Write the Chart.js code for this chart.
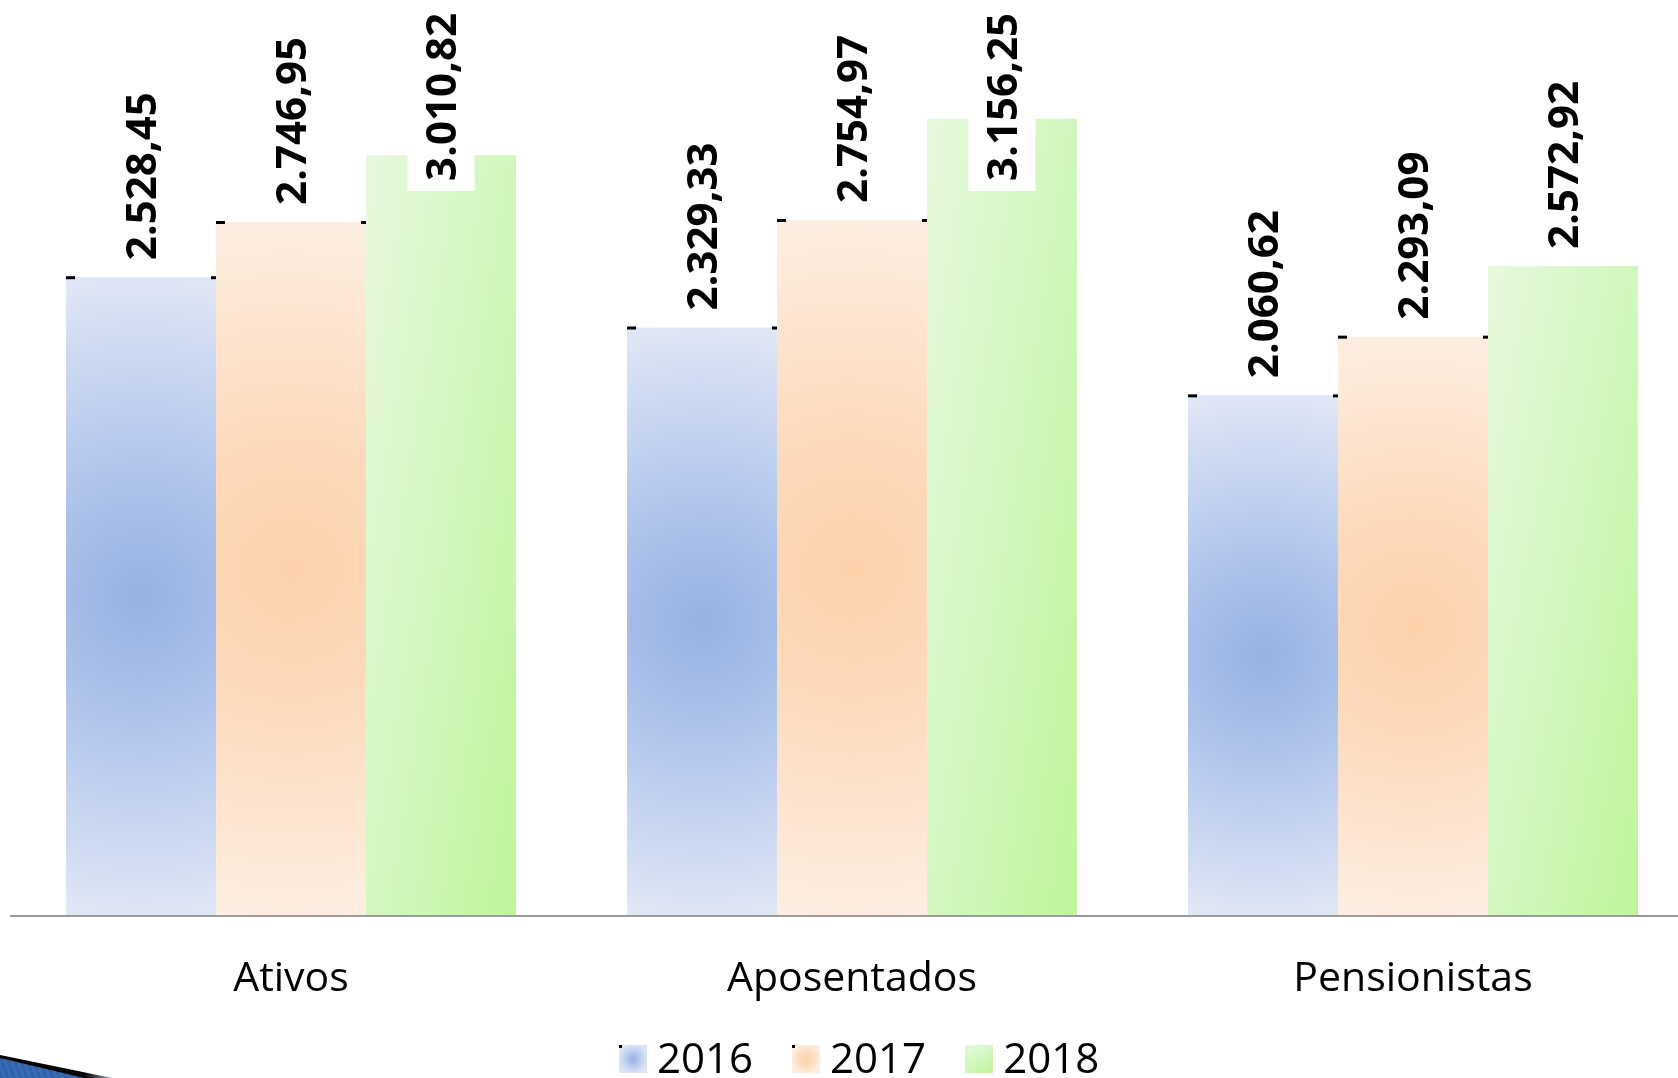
<!DOCTYPE html>
<html lang="pt-BR">
<head>
<meta charset="utf-8">
<title>Ativos / Aposentados / Pensionistas</title>
<script src="https://cdn.jsdelivr.net/npm/chart.js@4.4.1/dist/chart.umd.min.js"></script>
<style>
  html, body { margin: 0; padding: 0; background: #fff; overflow: hidden; }
  body { width: 1678px; height: 1078px; position: relative; font-family: 'Open Sans', sans-serif; }
  #wrap { position: absolute; left: 0; top: 0; width: 1700px; height: 1078px; }

  /* legend */
  #legend { position: absolute; left: 619px; top: 1036px; display: flex; }
  .legend-item { display: flex; align-items: flex-start; margin-right: 39px; }
  .legend-box { position: relative; width: 28px; height: 28px; margin-top: 9px; margin-right: 10px; }
  .legend-box.dot::before { content: ''; position: absolute; left: 0; top: 0; width: 3px; height: 3px; background: #000; }
  .legend-text { font-size: 42px; line-height: 42px; color: #000; }

  /* slide corner decoration */
  .corner { position: absolute; left: 0; top: 1040px; width: 120px; height: 38px; }
  .corner.shadow { background: linear-gradient(90deg, #000 70%, #c9d6ec 100%); clip-path: polygon(0 15px, 112px 38px, 0 38px); }
  .corner.blue { background: repeating-linear-gradient(70deg, #2f62aa 0 3px, #3a6cb4 3px 6px); clip-path: polygon(0 18px, 84px 38px, 0 38px); }
</style>
</head>
<body>
<div id="wrap"><canvas id="chart"></canvas></div>
<div id="legend"></div>
<div class="corner shadow"></div>
<div class="corner blue"></div>

<script>
/* ── Data ── */
const categories = ['Ativos', 'Aposentados', 'Pensionistas'];
const years      = ['2016', '2017', '2018'];
const v2016      = [2528.45, 2329.33, 2060.62];
const v2017      = [2746.95, 2754.97, 2293.09];
const v2018      = [3010.82, 3156.25, 2572.92];

const CAT_PCT = 0.802;
const FONT    = "'Open Sans', sans-serif";

// 2.528,45 style
function fmt(v) {
  const [int, dec] = v.toFixed(2).split('.');
  return int.replace(/\B(?=(\d{3})+(?!\d))/g, '.') + ',' + dec;
}

/* ── Bar geometry from the scales ── */
function barBox(ctx) {
  const chart = ctx.chart;
  const xs = chart.scales.x, ys = chart.scales.y;
  if (!xs || !ys || !chart.chartArea) return null;
  const step = xs.width / categories.length;
  const bw   = step * CAT_PCT / years.length;
  const cx   = xs.getPixelForValue(ctx.dataIndex) + (ctx.datasetIndex - 1) * bw;
  const top  = ys.getPixelForValue(ctx.raw);
  const base = ys.getPixelForValue(0);
  return { cx, left: cx - bw / 2, right: cx + bw / 2, top, base };
}

function radialFill(stops, fallback) {
  return ctx => {
    const b = barBox(ctx);
    if (!b) return fallback;
    const cy = (b.top + b.base) / 2, r = (b.base - b.top) / 2;
    const g = ctx.chart.ctx.createRadialGradient(b.cx, cy, 0, b.cx, cy, r);
    stops.forEach(([o, c]) => g.addColorStop(o, c));
    return g;
  };
}

function greenFill(ctx) {
  const b = barBox(ctx);
  if (!b) return '#d4f7c0';
  const w = b.right - b.left, h = b.base - b.top;
  // colour changes mostly left->right, a bit top->bottom
  const a = 0.55 / w, c = 0.45 / h, n = a * a + c * c;
  const g = ctx.chart.ctx.createLinearGradient(b.left, b.top, b.left + a / n, b.top + c / n);
  g.addColorStop(0, '#e6f9de');
  g.addColorStop(0.5, '#d3f7bf');
  g.addColorStop(1, '#bff59a');
  return g;
}

const blueFill = radialFill([[0, '#97b1e1'], [0.25, '#a6bde8'], [0.5, '#b8caee'], [0.75, '#cbd8f1'], [1, '#dfe6f5']], '#b8caee');
const peachFill = radialFill([[0, '#fdd2ab'], [0.35, '#fdd9ba'], [0.7, '#fde4cf'], [1, '#fdeee1']], '#fde0c8');

/* ── Value labels (rotated) + corner ticks ── */
const valueLabels = {
  id: 'valueLabels',
  afterDatasetsDraw(chart) {
    const c = chart.ctx;
    c.save();
    c.font = `bold 42px ${FONT}`;
    c.textBaseline = 'alphabetic';
    c.textAlign = 'left';
    chart.data.datasets.forEach((ds, di) => {
      chart.getDatasetMeta(di).data.forEach((bar, i) => {
        const txt = fmt(ds.data[i]);
        const len = c.measureText(txt).width;
        let bottom = bar.y - 17;
        if (bottom - len < chart.chartArea.top + 13) {
          bottom = chart.chartArea.top + 13 + len;
          c.fillStyle = '#fff';
          c.fillRect(bar.x - 33.5, bottom - len - 10, 67, len + 20);
        }
        c.save();
        c.translate(bar.x + 15, bottom);
        c.rotate(-Math.PI / 2);
        c.fillStyle = '#000';
        c.fillText(txt, 0, 0);
        c.restore();

        // little black marks at the top corners of the 2016 / 2017 bars
        if (di < 2) {
          const l = bar.x - bar.width / 2, r = bar.x + bar.width / 2;
          c.fillStyle = '#000';
          c.fillRect(l, bar.y - 1, 9, 3);
          c.fillRect(r - 5, bar.y - 1, 5, 3);
        }
      });
    });
    c.restore();
  }
};

/* ── Chart ── */
new Chart(document.getElementById('chart'), {
  type: 'bar',
  data: {
    labels: categories,
    datasets: [
      { label: years[0], data: v2016, backgroundColor: blueFill },
      { label: years[1], data: v2017, backgroundColor: peachFill },
      { label: years[2], data: v2018, backgroundColor: greenFill }
    ]
  },
  options: {
    responsive: true,
    maintainAspectRatio: false,
    animation: false,
    datasets: { bar: { barPercentage: 1, categoryPercentage: CAT_PCT, borderWidth: 0 } },
    layout: { padding: { left: 10.5, right: 6.5, top: 0, bottom: 35 } },
    plugins: { legend: { display: false }, tooltip: { enabled: false } },
    scales: {
      x: {
        grid: { display: false, drawTicks: false },
        border: { display: true, color: '#9c9c9c', width: 2, z: 1 },
        ticks: { color: '#000', padding: 39, font: { family: FONT, size: 41 } }
      },
      y: { display: false, min: 0, max: 3626 }
    }
  },
  plugins: [valueLabels]
});

/* ── Legend ── */
const legendSwatch = [
  'radial-gradient(circle at 50% 50%, #97b1e1 0%, #b8caee 35%, #dde5f4 75%)',
  'radial-gradient(circle at 50% 50%, #fdd2ab 0%, #fddcc0 40%, #fdeee1 75%)',
  'linear-gradient(150deg, #e8f9e0 0%, #d3f7bf 50%, #bff59a 100%)'
];
const legendEl = document.getElementById('legend');
years.forEach((y, i) => {
  const item = document.createElement('div');
  item.className = 'legend-item';
  item.innerHTML = `<div class="legend-box${i < 2 ? ' dot' : ''}" style="background:${legendSwatch[i]}"></div>
    <span class="legend-text">${y}</span>`;
  legendEl.appendChild(item);
});
</script>
</body>
</html>
